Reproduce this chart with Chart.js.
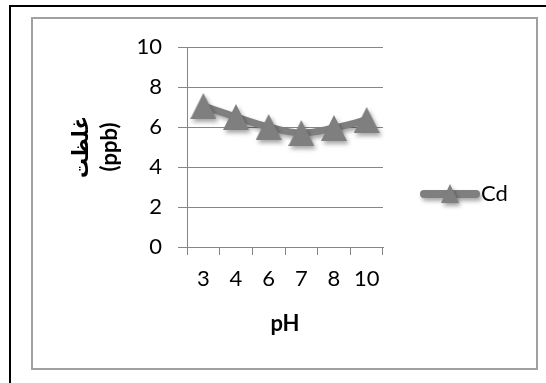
<!DOCTYPE html>
<html>
<head>
<meta charset="utf-8">
<script src="https://cdn.jsdelivr.net/npm/chart.js@4"></script>
<style>
  html, body { margin: 0; padding: 0; background: #fff; }
  #wrap { position: relative; width: 546px; height: 383px; overflow: hidden; }
  #outer { position: absolute; left: 9px; top: 5px; width: 600px; height: 400px; border-left: 2px solid #000; border-top: 2px solid #000; }
  #inner { position: absolute; left: 31px; top: 17px; width: 503px; height: 349px; border: 2px solid #a0a0a0; }
  #chart { position: absolute; left: 0; top: 0; }
</style>
</head>
<body>
<div id="wrap">
  <div id="outer"></div>
  <div id="inner"></div>
  <canvas id="chart" width="546" height="383"></canvas>
</div>
<script>
const phLabels = ["3", "4", "6", "7", "8", "10"];
const cdValues = [7.05, 6.5, 6.0, 5.7, 5.95, 6.35];
const yTicks = [0, 2, 4, 6, 8, 10];
const seriesName = "Cd";
const yTitle = ["غلظت", "(ppb)"];
const xTitle = "pH";

const gray = "#7f7f7f";
const fontFamily = "Lato, 'DejaVu Sans Condensed', 'DejaVu Sans', sans-serif";

// triangle marker like excel: fills its box, centred on the point
function makeTriangle(w, h) {
  const c = document.createElement("canvas");
  c.width = w;
  c.height = h;
  const ctx = c.getContext("2d");
  ctx.fillStyle = gray;
  ctx.beginPath();
  ctx.moveTo(0, h);
  ctx.lineTo(w / 2, 0);
  ctx.lineTo(w, h);
  ctx.closePath();
  ctx.fill();
  return c;
}

const bigTri = makeTriangle(26, 26);
const smallTri = makeTriangle(18, 19);

function setShadow(ctx) {
  ctx.shadowColor = "rgba(0,0,0,0.35)";
  ctx.shadowBlur = 4;
  ctx.shadowOffsetX = 2;
  ctx.shadowOffsetY = 3;
}

const shadowPlugin = {
  id: "shadow",
  beforeDatasetsDraw(chart) {
    chart.ctx.save();
    setShadow(chart.ctx);
  },
  afterDatasetsDraw(chart) {
    chart.ctx.restore();
  },
};

const legendPlugin = {
  id: "cdLegend",
  afterDraw(chart) {
    const ctx = chart.ctx;
    const y = 194;
    ctx.save();
    setShadow(ctx);
    ctx.strokeStyle = gray;
    ctx.lineWidth = 8;
    ctx.lineCap = "round";
    ctx.beginPath();
    ctx.moveTo(424, y);
    ctx.lineTo(476, y);
    ctx.stroke();
    ctx.drawImage(smallTri, 441, 184);
    ctx.restore();
    ctx.save();
    ctx.fillStyle = "#000";
    ctx.font = "22px " + fontFamily;
    ctx.textBaseline = "middle";
    ctx.fillText(seriesName, 481, y);
    ctx.restore();
  },
};

new Chart(document.getElementById("chart"), {
  type: "line",
  data: {
    labels: phLabels,
    datasets: [
      {
        label: seriesName,
        data: cdValues,
        borderColor: gray,
        backgroundColor: gray,
        borderWidth: 7,
        tension: 0.4,
        pointStyle: bigTri,
        pointRadius: 13,
      },
    ],
  },
  options: {
    responsive: false,
    animation: false,
    events: [],
    layout: { padding: { left: 0, top: 47, right: 163, bottom: 0 } },
    plugins: { legend: { display: false }, tooltip: { enabled: false } },
    scales: {
      x: {
        offset: true,
        grid: { offset: true, drawOnChartArea: false, drawTicks: true, tickLength: 8, color: "#868686" },
        border: { color: "#868686" },
        ticks: { color: "#000", padding: 11, font: { family: fontFamily, size: 22 } },
        title: {
          display: true,
          text: xTitle,
          color: "#000",
          font: { family: fontFamily, size: 22, weight: "bold" },
          padding: { top: 0, bottom: 46 },
        },
        afterFit(scale) {
          scale.height = 136;
        },
      },
      y: {
        min: 0,
        max: 10,
        afterBuildTicks(scale) {
          scale.ticks = yTicks.map((v) => ({ value: v }));
        },
        grid: { color: "#868686", tickLength: 9 },
        border: { color: "#868686" },
        ticks: { color: "#000", padding: 16, font: { family: fontFamily, size: 22 } },
        title: {
          display: true,
          text: yTitle,
          color: "#000",
          font: { family: fontFamily, size: 22, weight: "bold", lineHeight: 1.3 },
          padding: { top: 67, bottom: 0 },
        },
        afterFit(scale) {
          scale.width = 187;
        },
      },
    },
  },
  plugins: [shadowPlugin, legendPlugin],
});
</script>
</body>
</html>
